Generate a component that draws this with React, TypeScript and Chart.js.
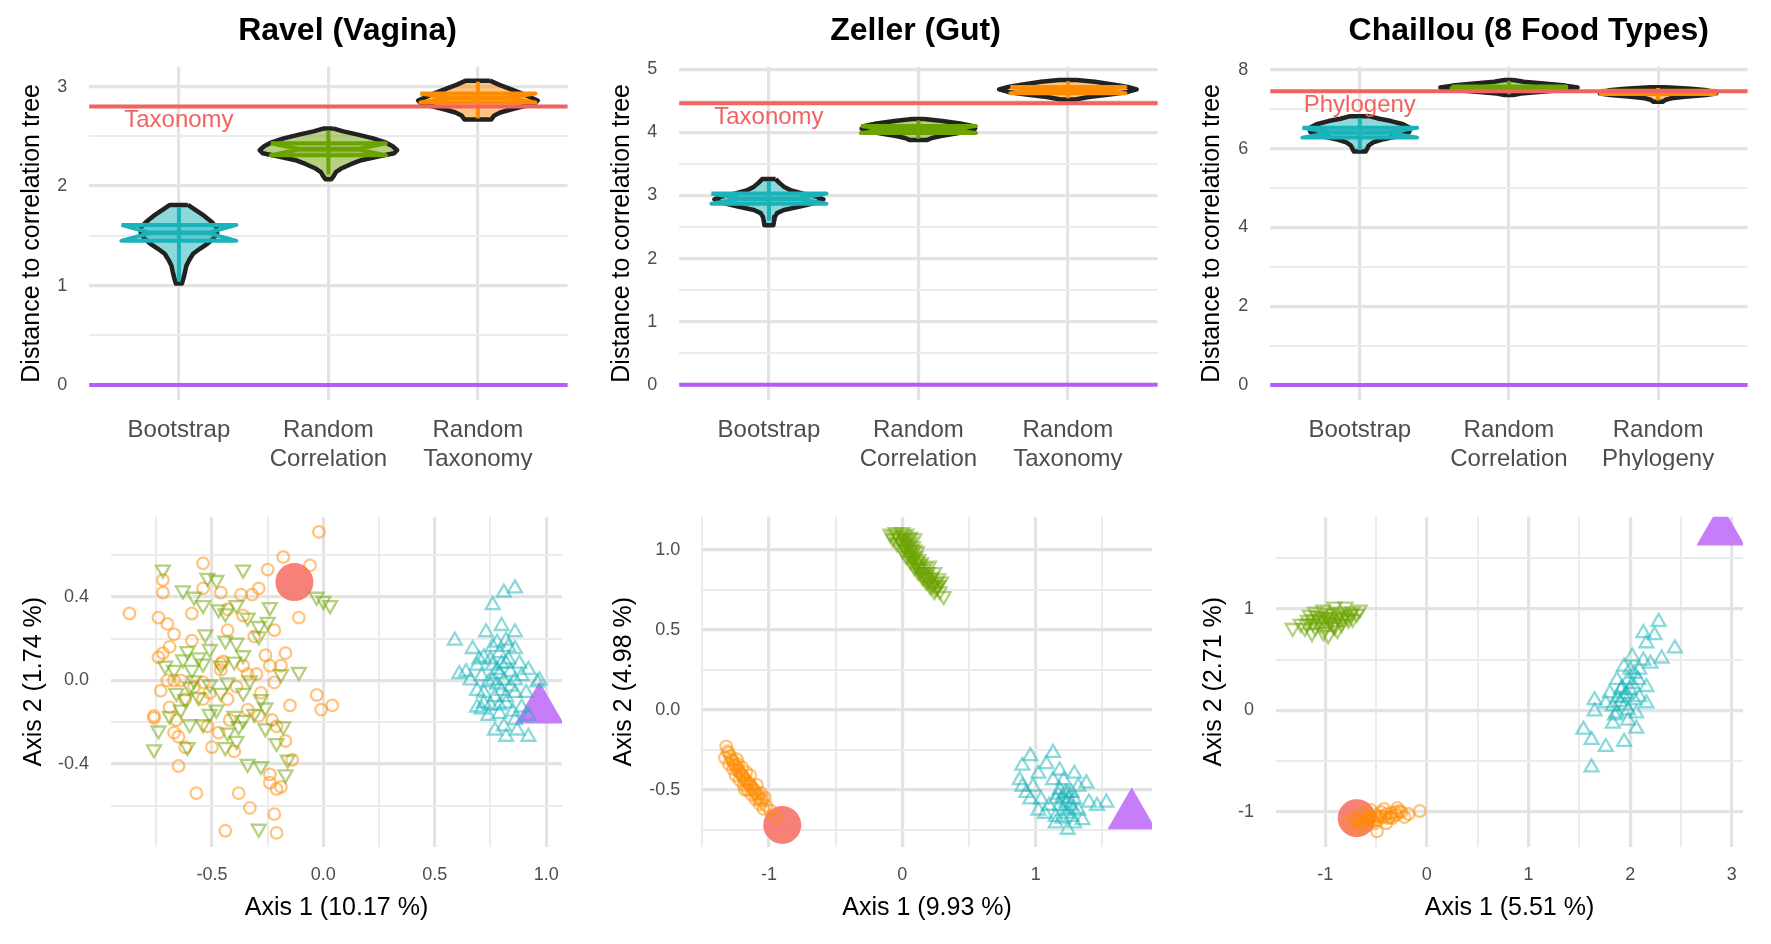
import React, { useEffect, useRef } from 'react';
import { Chart, registerables } from 'chart.js';
Chart.register(...registerables);

const FONT = "'Liberation Sans', Arial, Helvetica, sans-serif";
Chart.defaults.font.family = FONT;

const TEAL = '#1AB3B9';
const GREEN = '#6BA300';
const ORANGE = '#FF8C00';
const REFRED = '#F2625F';
const ZEROPURPLE = '#B55CF7';
const TREE_RED = 'rgba(246,118,110,0.92)';
const TREE_PURPLE = 'rgba(196,118,250,0.95)';
const GRID_MAJOR = '#E3E3E3';
const GRID_MINOR = '#EBEBEB';
const TICK_COLOR = '#4D4D4D';

// ---------------- Top row: distance to correlation tree ----------------
const ravelCats = ['Bootstrap', ['Random', 'Correlation'], ['Random', 'Taxonomy']];
const zellerCats = ['Bootstrap', ['Random', 'Correlation'], ['Random', 'Taxonomy']];
const chaillouCats = ['Bootstrap', ['Random', 'Correlation'], ['Random', 'Phylogeny']];

// violin density outlines: y value and half width (category units)
const ravelBootY = [1.81, 1.76, 1.70, 1.64, 1.58, 1.52, 1.47, 1.42, 1.37, 1.32, 1.26, 1.20, 1.13, 1.07, 1.02];
const ravelBootW = [0.06, 0.11, 0.17, 0.22, 0.255, 0.255, 0.23, 0.19, 0.14, 0.095, 0.07, 0.05, 0.04, 0.03, 0.02];
const ravelCorY = [2.58, 2.55, 2.52, 2.48, 2.44, 2.40, 2.36, 2.33, 2.30, 2.26, 2.22, 2.18, 2.14, 2.10, 2.07];
const ravelCorW = [0.03, 0.10, 0.19, 0.30, 0.38, 0.43, 0.46, 0.44, 0.34, 0.22, 0.15, 0.09, 0.05, 0.035, 0.02];
const ravelTaxY = [3.06, 3.02, 2.98, 2.94, 2.90, 2.86, 2.83, 2.80, 2.77, 2.74, 2.71, 2.67];
const ravelTaxW = [0.08, 0.14, 0.21, 0.28, 0.34, 0.40, 0.38, 0.30, 0.22, 0.15, 0.11, 0.09];

const zellerBootY = [3.26, 3.20, 3.14, 3.08, 3.03, 2.98, 2.94, 2.90, 2.86, 2.82, 2.77, 2.72, 2.66, 2.60, 2.53];
const zellerBootW = [0.045, 0.07, 0.10, 0.15, 0.23, 0.32, 0.365, 0.33, 0.27, 0.20, 0.10, 0.055, 0.04, 0.035, 0.03];
const zellerCorY = [4.21, 4.18, 4.14, 4.10, 4.06, 4.02, 3.98, 3.94, 3.91, 3.88];
const zellerCorW = [0.04, 0.16, 0.28, 0.36, 0.38, 0.34, 0.25, 0.15, 0.09, 0.06];
const zellerTaxY = [4.83, 4.80, 4.76, 4.72, 4.68, 4.64, 4.60, 4.56, 4.52];
const zellerTaxW = [0.06, 0.18, 0.30, 0.40, 0.46, 0.40, 0.28, 0.14, 0.05];

const chaillouBootY = [6.82, 6.76, 6.70, 6.62, 6.52, 6.42, 6.32, 6.24, 6.16, 6.08, 6.00, 5.93];
const chaillouBootW = [0.07, 0.13, 0.21, 0.29, 0.34, 0.33, 0.26, 0.16, 0.09, 0.06, 0.05, 0.04];
const chaillouCorY = [7.74, 7.70, 7.65, 7.60, 7.55, 7.50, 7.45, 7.40, 7.36];
const chaillouCorW = [0.03, 0.10, 0.25, 0.38, 0.46, 0.40, 0.24, 0.08, 0.03];
const chaillouPhyY = [7.56, 7.52, 7.48, 7.44, 7.40, 7.36, 7.32, 7.28, 7.24, 7.19];
const chaillouPhyW = [0.05, 0.22, 0.33, 0.38, 0.39, 0.32, 0.18, 0.09, 0.05, 0.03];

// box statistics per group [Bootstrap, Random Correlation, Random Taxonomy/Phylogeny]
const ravelQ1 = [1.45, 2.31, 2.84];
const ravelMed = [1.53, 2.37, 2.885];
const ravelQ3 = [1.61, 2.43, 2.93];
const ravelLo = [1.04, 2.12, 2.68];
const ravelHi = [1.79, 2.56, 3.05];

const zellerQ1 = [2.87, 3.99, 4.62];
const zellerMed = [2.95, 4.045, 4.67];
const zellerQ3 = [3.03, 4.10, 4.72];
const zellerLo = [2.60, 3.90, 4.54];
const zellerHi = [3.23, 4.19, 4.81];

const chaillouQ1 = [6.28, 7.535, 7.39];
const chaillouMed = [6.41, 7.555, 7.43];
const chaillouQ3 = [6.53, 7.575, 7.47];
const chaillouLo = [5.96, 7.38, 7.22];
const chaillouHi = [6.78, 7.72, 7.54];

const ravelRef = 2.8;
const zellerRef = 4.46;
const chaillouRef = 7.46;

const ravelYTicks = [0, 1, 2, 3];
const ravelYMinor = [0.5, 1.5, 2.5];
const zellerYTicks = [0, 1, 2, 3, 4, 5];
const zellerYMinor = [0.5, 1.5, 2.5, 3.5, 4.5];
const chaillouYTicks = [0, 2, 4, 6, 8];
const chaillouYMinor = [1, 3, 5, 7];

// ---------------- Bottom row: PCoA ----------------
const ravelTaxPts = [[-0.02,0.71],[-0.18,0.59],[-0.54,0.56],[-0.06,0.55],[-0.25,0.53],[-0.72,0.48],[-0.72,0.42],[-0.87,0.32],[-0.54,0.44],[-0.46,0.42],[-0.29,0.44],[-0.32,0.41],[-0.37,0.41],[-0.11,0.30],[-0.59,0.32],[-0.74,0.30],[-0.70,0.27],[-0.67,0.22],[-0.43,0.34],[-0.36,0.31],[-0.22,0.24],[-0.43,0.24],[-0.31,0.21],[-0.59,0.19],[-0.69,0.16],[-0.74,0.11],[-0.72,0.13],[-0.17,0.13],[-0.26,0.12],[-0.45,0.09],[-0.36,0.07],[-0.24,0.07],[-0.19,0.07],[-0.46,0.08],[-0.30,0.03],[-0.34,0.03],[-0.54,-0.01],[-0.70,0.00],[-0.67,0.00],[-0.73,-0.05],[-0.22,-0.01],[-0.03,-0.07],[-0.01,-0.14],[0.04,-0.12],[-0.15,-0.12],[-0.69,-0.13],[-0.76,-0.18],[-0.76,-0.17],[-0.54,-0.09],[-0.51,-0.06],[-0.43,-0.09],[-0.34,-0.14],[-0.29,-0.17],[-0.23,-0.19],[-0.42,-0.19],[-0.52,-0.22],[-0.66,-0.19],[-0.67,-0.25],[-0.65,-0.27],[-0.62,-0.32],[-0.47,-0.25],[-0.50,-0.32],[-0.21,-0.22],[-0.17,-0.29],[-0.14,-0.38],[-0.40,-0.34],[-0.65,-0.41],[-0.24,-0.45],[-0.24,-0.49],[-0.21,-0.52],[-0.19,-0.51],[-0.57,-0.54],[-0.38,-0.54],[-0.33,-0.61],[-0.22,-0.64],[-0.44,-0.72],[-0.21,-0.73],[-0.46,0.05],[-0.39,-0.03],[-0.28,-0.06],[-0.58,-0.03],[-0.64,0.00],[-0.62,-0.09]];
const ravelCorPts = [[-0.72,0.53],[-0.36,0.53],[-0.52,0.49],[-0.48,0.48],[-0.63,0.43],[-0.58,0.40],[-0.54,0.36],[-0.03,0.40],[0.00,0.38],[0.03,0.36],[-0.24,0.35],[-0.47,0.34],[-0.39,0.36],[-0.44,0.32],[-0.34,0.30],[-0.25,0.28],[-0.29,0.26],[-0.53,0.22],[-0.44,0.19],[-0.39,0.18],[-0.29,0.21],[-0.51,0.15],[-0.61,0.14],[-0.56,0.11],[-0.36,0.12],[-0.63,0.10],[-0.71,0.07],[-0.67,0.05],[-0.59,0.05],[-0.54,0.08],[-0.46,0.07],[-0.40,0.09],[-0.11,0.04],[-0.19,0.03],[-0.43,-0.01],[-0.51,-0.02],[-0.60,-0.03],[-0.66,-0.06],[-0.62,-0.09],[-0.56,-0.08],[-0.36,-0.06],[-0.28,-0.09],[-0.26,-0.13],[-0.48,-0.14],[-0.40,-0.17],[-0.36,-0.19],[-0.51,-0.16],[-0.64,-0.14],[-0.60,-0.21],[-0.74,-0.24],[-0.61,-0.32],[-0.44,-0.32],[-0.39,-0.29],[-0.38,-0.22],[-0.18,-0.22],[-0.26,-0.23],[-0.21,-0.30],[-0.76,-0.33],[-0.34,-0.40],[-0.28,-0.41],[-0.16,-0.38],[-0.17,-0.45],[-0.29,-0.71],[-0.58,0.00],[-0.46,-0.06],[-0.33,0.00],[-0.69,-0.17],[-0.54,-0.21],[-0.43,-0.25],[-0.31,-0.16]];
const ravelBootPts = [[0.86,0.44],[0.81,0.42],[0.76,0.36],[0.59,0.19],[0.73,0.23],[0.80,0.26],[0.86,0.23],[0.82,0.19],[0.76,0.16],[0.67,0.15],[0.72,0.11],[0.79,0.13],[0.86,0.15],[0.82,0.08],[0.76,0.07],[0.69,0.07],[0.64,0.04],[0.92,0.05],[0.89,0.02],[0.81,0.00],[0.74,-0.01],[0.71,0.02],[0.96,-0.01],[0.66,0.00],[0.69,-0.05],[0.77,-0.08],[0.86,-0.06],[0.91,-0.06],[0.72,-0.11],[0.82,-0.11],[0.71,-0.14],[0.89,-0.13],[0.79,-0.16],[0.74,-0.17],[0.86,-0.19],[0.92,-0.17],[0.81,-0.22],[0.77,-0.24],[0.87,-0.24],[0.82,-0.27],[0.92,-0.27],[0.69,-0.13],[0.61,0.03],[0.97,0.00],[0.76,0.00],[0.84,-0.03],[0.79,0.03],[0.72,-0.06],[0.78,0.05],[0.80,-0.05],[0.83,0.10],[0.75,-0.12],[0.85,-0.15],[0.78,0.18],[0.88,0.08],[0.70,0.10],[0.80,0.08],[0.84,0.04],[0.78,-0.02],[0.82,-0.08],[0.86,0.00],[0.75,0.10],[0.83,0.16],[0.79,-0.12]];
const ravelTaxTree = [-0.13, 0.47];
const ravelCorTree = [0.97, -0.14];

const zellerTaxPts = [[-1.32,-0.23],[-1.31,-0.26],[-1.33,-0.30],[-1.29,-0.29],[-1.27,-0.32],[-1.30,-0.34],[-1.25,-0.35],[-1.27,-0.37],[-1.23,-0.38],[-1.25,-0.41],[-1.21,-0.40],[-1.19,-0.42],[-1.22,-0.44],[-1.17,-0.44],[-1.19,-0.47],[-1.15,-0.46],[-1.13,-0.48],[-1.16,-0.50],[-1.11,-0.50],[-1.09,-0.47],[-1.13,-0.53],[-1.08,-0.53],[-1.06,-0.52],[-1.10,-0.56],[-1.05,-0.56],[-1.03,-0.55],[-1.07,-0.59],[-1.02,-0.60],[-1.04,-0.62],[-0.99,-0.63],[-0.94,-0.67],[-1.20,-0.36],[-1.14,-0.41],[-1.18,-0.50],[-1.24,-0.31],[-1.30,-0.27],[-1.28,-0.31],[-1.26,-0.34],[-1.24,-0.36],[-1.22,-0.39],[-1.20,-0.41],[-1.18,-0.44],[-1.16,-0.46],[-1.14,-0.47],[-1.12,-0.50],[-1.10,-0.52],[-1.08,-0.55],[-1.06,-0.57],[-1.23,-0.34],[-1.17,-0.39]];
const zellerCorPts = [[-0.09,1.10],[-0.05,1.11],[0.00,1.11],[0.03,1.10],[-0.07,1.07],[-0.02,1.07],[0.02,1.06],[0.06,1.08],[0.09,1.07],[-0.04,1.04],[0.01,1.03],[0.05,1.03],[0.08,1.02],[0.00,1.00],[0.04,0.99],[0.07,0.98],[0.11,0.99],[0.03,0.96],[0.08,0.95],[0.12,0.94],[0.06,0.93],[0.10,0.91],[0.14,0.92],[0.09,0.89],[0.13,0.88],[0.17,0.89],[0.12,0.86],[0.16,0.85],[0.19,0.86],[0.15,0.83],[0.19,0.82],[0.22,0.83],[0.18,0.80],[0.22,0.79],[0.25,0.80],[0.21,0.77],[0.25,0.76],[0.27,0.78],[0.24,0.74],[0.31,0.71],[0.20,0.90],[0.24,0.86],[0.27,0.82],[0.29,0.80],[-0.06,1.09],[-0.03,1.08],[0.01,1.09],[0.04,1.07],[-0.01,1.05],[0.03,1.04],[0.06,1.05],[0.02,1.01],[0.06,1.00],[0.09,1.00],[0.05,0.97],[0.10,0.96],[0.07,0.95],[0.11,0.93],[0.13,0.91],[0.11,0.90],[0.15,0.88],[0.14,0.86],[0.18,0.84],[0.17,0.82],[0.20,0.81],[0.23,0.78],[0.26,0.77],[0.28,0.74]];
const zellerBootPts = [[0.96,-0.29],[1.13,-0.27],[0.90,-0.35],[0.88,-0.44],[1.02,-0.40],[1.08,-0.34],[1.18,-0.38],[1.29,-0.40],[1.32,-0.48],[1.38,-0.46],[1.24,-0.52],[1.15,-0.56],[1.10,-0.60],[1.04,-0.56],[0.93,-0.52],[0.98,-0.48],[1.21,-0.63],[1.27,-0.67],[1.35,-0.69],[1.15,-0.67],[1.24,-0.75],[1.40,-0.58],[1.46,-0.60],[1.53,-0.58],[1.29,-0.56],[1.18,-0.50],[1.13,-0.44],[1.07,-0.65],[1.29,-0.71],[1.02,-0.63],[0.90,-0.48],[1.21,-0.44],[1.32,-0.63],[1.15,-0.71],[0.96,-0.56],[1.27,-0.52],[1.20,-0.55],[1.23,-0.58],[1.26,-0.60],[1.18,-0.60],[1.22,-0.52],[1.25,-0.56],[1.28,-0.62],[1.17,-0.53],[1.24,-0.65],[1.20,-0.68]];
const zellerTaxTree = [-0.90, -0.72];
const zellerCorTree = [1.72, -0.66];

const chaillouTaxPts = [[-0.07,-0.99],[-0.18,-1.02],[-0.25,-1.00],[-0.29,-0.96],[-0.36,-1.05],[-0.42,-0.97],[-0.47,-1.05],[-0.49,-1.19],[-0.55,-0.98],[-0.58,-1.08],[-0.62,-1.01],[-0.67,-1.11],[-0.73,-1.05],[-0.69,-1.18],[-0.51,-1.11],[-0.40,-1.11],[-0.34,-1.06],[-0.22,-1.05],[-0.45,-1.00],[-0.64,-1.14],[-0.31,-1.00],[-0.42,-1.05],[-0.56,-1.04],[-0.77,-1.11],[-0.60,-1.05],[-0.55,-1.06],[-0.50,-1.03],[-0.45,-1.04],[-0.40,-1.02],[-0.35,-1.01],[-0.30,-1.03],[-0.65,-1.07],[-0.70,-1.08],[-0.53,-1.09],[-0.48,-1.08],[-0.38,-1.06],[-0.27,-0.99],[-0.62,-1.10]];
const chaillouCorPts = [[-1.32,0.81],[-1.24,0.85],[-1.17,0.89],[-1.10,0.82],[-1.13,0.76],[-1.02,0.77],[-0.97,0.74],[-0.91,0.82],[-0.84,0.85],[-0.77,0.89],[-0.69,0.95],[-0.66,0.99],[-0.80,1.02],[-0.91,1.02],[-1.02,0.99],[-1.10,0.97],[-1.15,0.94],[-0.99,0.92],[-0.88,0.92],[-0.80,0.94],[-0.73,0.90],[-1.06,0.89],[-0.95,0.87],[-0.88,0.79],[-1.20,0.81],[-0.73,0.97],[-1.00,0.82],[-1.11,0.90],[-1.05,0.85],[-1.00,0.88],[-0.95,0.90],[-0.90,0.86],[-0.85,0.89],[-0.82,0.91],[-0.93,0.95],[-0.97,0.96],[-1.08,0.93],[-1.03,0.92],[-0.86,0.97],[-0.78,0.92],[-0.92,0.84],[-1.12,0.86],[-0.75,0.95],[-1.18,0.85]];
const chaillouBootPts = [[2.28,0.87],[2.13,0.76],[2.24,0.74],[2.16,0.66],[2.44,0.61],[2.31,0.51],[2.20,0.46],[2.02,0.53],[1.94,0.43],[2.09,0.40],[1.87,0.30],[2.02,0.26],[2.16,0.23],[1.80,0.17],[1.94,0.13],[2.09,0.13],[1.65,0.10],[2.16,0.07],[1.83,0.04],[1.98,0.00],[1.65,-0.01],[2.06,-0.03],[1.83,-0.13],[1.54,-0.19],[2.06,-0.18],[1.62,-0.29],[1.76,-0.36],[1.94,-0.31],[1.62,-0.56],[1.98,0.30],[1.91,0.20],[2.04,0.36],[1.87,-0.03],[1.76,0.07],[2.13,0.49],[1.98,-0.10],[1.92,0.22],[1.96,0.16],[2.00,0.20],[1.90,0.08],[1.95,0.05],[2.04,0.10],[1.88,0.12],[2.00,0.40],[2.08,0.30],[1.85,-0.05]];
const chaillouTaxTree = [-0.69, -1.06];
const chaillouCorTree = [2.89, 1.76];

const ravelPX = [-0.5, 0, 0.5, 1.0];
const ravelPXLabels = ['-0.5', '0.0', '0.5', '1.0'];
const ravelPXMinor = [-0.75, -0.25, 0.25, 0.75];
const ravelPY = [-0.4, 0, 0.4];
const ravelPYLabels = ['-0.4', '0.0', '0.4'];
const ravelPYMinor = [-0.6, -0.2, 0.2, 0.6];

const zellerPX = [-1, 0, 1];
const zellerPXLabels = ['-1', '0', '1'];
const zellerPXMinor = [-1.5, -0.5, 0.5, 1.5];
const zellerPY = [-0.5, 0, 0.5, 1.0];
const zellerPYLabels = ['-0.5', '0.0', '0.5', '1.0'];
const zellerPYMinor = [-0.75, -0.25, 0.25, 0.75];

const chaillouPX = [-1, 0, 1, 2, 3];
const chaillouPXLabels = ['-1', '0', '1', '2', '3'];
const chaillouPXMinor = [-0.5, 0.5, 1.5, 2.5];
const chaillouPY = [-1, 0, 1];
const chaillouPYLabels = ['-1', '0', '1'];
const chaillouPYMinor = [-0.5, 0.5, 1.5];

// ---------------- helpers ----------------
function rgba(hex: string, a: number) {
  const n = parseInt(hex.slice(1), 16);
  return `rgba(${(n >> 16) & 255},${(n >> 8) & 255},${n & 255},${a})`;
}
const toXY = (a: number[][]) => a.map((p) => ({ x: p[0], y: p[1] }));

function axis(o: any) {
  const all = [...o.majors, ...o.minors].sort((a: number, b: number) => a - b);
  const isMajor = (c: any) => c.tick && o.majors.includes(c.tick.value);
  return {
    type: 'linear',
    position: o.isX ? 'bottom' : 'left',
    min: o.min,
    max: o.max,
    bounds: 'data',
    afterBuildTicks: (s: any) => {
      s.ticks = all.map((v: number) => ({ value: v }));
    },
    afterFit: (s: any) => {
      if (o.isX) s.height = o.size;
      else s.width = o.size;
    },
    ticks: {
      autoSkip: false,
      maxRotation: 0,
      minRotation: 0,
      padding: o.tickPad,
      color: TICK_COLOR,
      font: { family: FONT, size: o.tickSize },
      callback: (v: number) => {
        const i = o.majors.indexOf(v);
        return i >= 0 ? o.labels[i] : '';
      },
    },
    grid: {
      drawTicks: false,
      color: (c: any) => (isMajor(c) ? GRID_MAJOR : GRID_MINOR),
      lineWidth: (c: any) => (isMajor(c) ? 3.2 : 2),
    },
    border: { display: false },
    title: {
      display: !!o.title,
      text: o.title || '',
      color: '#000',
      font: { family: FONT, size: 25 },
      padding: o.titlePad || 0,
    },
  };
}

const panelTextPlugin = {
  id: 'panelText',
  afterDraw(chart: any, _args: any, opts: any) {
    const { ctx } = chart;
    ctx.save();
    if (opts.title) {
      ctx.font = `bold 32px ${FONT}`;
      ctx.fillStyle = '#000';
      ctx.textAlign = 'center';
      ctx.textBaseline = 'alphabetic';
      ctx.fillText(opts.title, opts.titleX, opts.titleY);
    }
    if (opts.refLabel) {
      const x = chart.scales.x.getPixelForValue(1);
      const y = chart.scales.y.getPixelForValue(opts.refValue) + 14;
      ctx.font = `24px ${FONT}`;
      ctx.fillStyle = REFRED;
      ctx.textAlign = 'center';
      ctx.textBaseline = 'middle';
      ctx.fillText(opts.refLabel, x, y);
    }
    ctx.restore();
  },
};

const X_LO = 0.4;
const X_HI = 3.6;
const BOX_HALF = 0.385;

function lineDs(data: any[], color: string, width: number, order: number, fill?: string, bg?: string) {
  return {
    type: 'line',
    data,
    borderColor: color,
    borderWidth: width,
    backgroundColor: bg || 'rgba(0,0,0,0)',
    fill: fill || false,
    pointRadius: 0,
    tension: 0,
    clip: false,
    order,
    borderJoinStyle: 'round',
    borderCapStyle: 'butt',
  };
}

function violinChart(p: any) {
  const cols = [TEAL, GREEN, ORANGE];
  const datasets: any[] = [];
  datasets.push(lineDs([{ x: X_LO, y: p.ref }, { x: X_HI, y: p.ref }], REFRED, 4, 0));
  datasets.push(lineDs([{ x: X_LO, y: 0 }, { x: X_HI, y: 0 }], ZEROPURPLE, 4, 0));
  p.violins.forEach((v: any, i: number) => {
    const c = i + 1;
    const col = cols[i];
    const right = v.y.map((y: number, k: number) => ({ x: c + v.w[k], y }));
    const left = v.y.map((y: number, k: number) => ({ x: c - v.w[k], y })).reverse();
    const poly = [...right, ...left, right[0]];
    datasets.push(lineDs(poly, '#222222', 4.5, 6, 'shape', rgba(col, 0.5)));
    const hw = BOX_HALF;
    const nw = BOX_HALF / 2;
    const q1 = p.q1[i], q3 = p.q3[i], md = p.med[i];
    const box = [
      { x: c - hw, y: q3 }, { x: c - nw, y: md }, { x: c - hw, y: q1 },
      { x: c + hw, y: q1 }, { x: c + nw, y: md }, { x: c + hw, y: q3 }, { x: c - hw, y: q3 },
    ];
    datasets.push(lineDs(box, col, 4, 5, 'shape', rgba(col, 0.35)));
    datasets.push(lineDs([{ x: c - nw, y: md }, { x: c + nw, y: md }], col, 4.5, 4));
    datasets.push(lineDs([{ x: c, y: p.lo[i] }, { x: c, y: p.hi[i] }], col, 4, 3));
  });
  return {
    type: 'scatter',
    data: { datasets },
    options: {
      responsive: false,
      animation: false,
      events: [],
      layout: { padding: { top: 66.7, right: p.padRight, bottom: 0, left: 0 } },
      plugins: {
        legend: { display: false },
        tooltip: { enabled: false },
        panelText: { title: p.title, titleX: p.titleX, titleY: 40, refLabel: p.refLabel, refValue: p.ref },
      },
      scales: {
        x: axis({ isX: true, min: X_LO, max: X_HI, majors: [1, 2, 3], labels: p.cats, minors: [], size: 70, tickPad: 16, tickSize: 24 }),
        y: axis({
          isX: false, min: p.yMin, max: p.yMax, majors: p.yTicks, labels: p.yTicks.map(String), minors: p.yMinor,
          size: p.yAxisW, tickPad: 22, tickSize: 18, title: 'Distance to correlation tree', titlePad: { top: 17, bottom: 0 },
        }),
      },
    },
    plugins: [panelTextPlugin],
  };
}

function pcoaChart(p: any) {
  const datasets: any[] = [
    {
      type: 'scatter', data: toXY(p.boot), pointStyle: 'triangle', pointRadius: 8, pointBorderWidth: 2.3,
      pointBorderColor: rgba(TEAL, 0.5), pointBackgroundColor: 'rgba(0,0,0,0)', clip: 0, order: 1,
    },
    {
      type: 'scatter', data: toXY(p.cor), pointStyle: 'triangle', pointRotation: 180, pointRadius: 8, pointBorderWidth: 2.3,
      pointBorderColor: rgba(GREEN, 0.5), pointBackgroundColor: 'rgba(0,0,0,0)', clip: 0, order: 2,
    },
    {
      type: 'scatter', data: toXY(p.tax), pointStyle: 'circle', pointRadius: 5.8, pointBorderWidth: 2.3,
      pointBorderColor: rgba(ORANGE, 0.5), pointBackgroundColor: 'rgba(0,0,0,0)', clip: 0, order: 3,
    },
    {
      type: 'scatter', data: toXY([p.corTree]), pointStyle: 'triangle', pointRadius: 28, pointBorderWidth: 0,
      pointBackgroundColor: TREE_PURPLE, pointBorderColor: TREE_PURPLE, clip: 0, order: 4,
    },
    {
      type: 'scatter', data: toXY([p.taxTree]), pointStyle: 'circle', pointRadius: 19, pointBorderWidth: 0,
      pointBackgroundColor: TREE_RED, pointBorderColor: TREE_RED, clip: 0, order: 5,
    },
  ];
  return {
    type: 'scatter',
    data: { datasets },
    options: {
      responsive: false,
      animation: false,
      events: [],
      layout: { padding: { top: 46.7, right: p.padRight, bottom: 0, left: 0 } },
      plugins: { legend: { display: false }, tooltip: { enabled: false } },
      scales: {
        x: axis({
          isX: true, min: p.xMin, max: p.xMax, majors: p.xTicks, labels: p.xLabels, minors: p.xMinor,
          size: 97.3, tickPad: 18, tickSize: 18, title: p.xTitle, titlePad: { top: 0, bottom: 20.7 },
        }),
        y: axis({
          isX: false, min: p.yMin, max: p.yMax, majors: p.yTicks, labels: p.yLabels, minors: p.yMinor,
          size: p.yAxisW, tickPad: 22, tickSize: 18, title: p.yTitle, titlePad: { top: 19, bottom: 0 },
        }),
      },
    },
  };
}

function ChartCanvas(props: { left: number; top: number; width: number; height: number; build: () => any }) {
  const ref = useRef<HTMLCanvasElement>(null);
  useEffect(() => {
    const chart = new Chart(ref.current as HTMLCanvasElement, props.build());
    return () => chart.destroy();
  }, []);
  return (
    <canvas
      ref={ref}
      width={props.width}
      height={props.height}
      style={{ position: 'absolute', left: props.left, top: props.top, width: props.width, height: props.height }}
    />
  );
}

export default function App() {
  return (
    <div style={{ position: 'absolute', left: 0, top: 0, width: 1771, height: 944, background: '#fff', overflow: 'hidden' }}>
      <ChartCanvas left={0} top={0} width={590} height={470} build={() => violinChart({
        title: 'Ravel (Vagina)', titleX: 347.5, cats: ravelCats, ref: ravelRef, refLabel: 'Taxonomy',
        yMin: -0.15, yMax: 3.2, yTicks: ravelYTicks, yMinor: ravelYMinor, yAxisW: 89.2, padRight: 22.4,
        violins: [{ y: ravelBootY, w: ravelBootW }, { y: ravelCorY, w: ravelCorW }, { y: ravelTaxY, w: ravelTaxW }],
        q1: ravelQ1, med: ravelMed, q3: ravelQ3, lo: ravelLo, hi: ravelHi,
      })} />
      <ChartCanvas left={590} top={0} width={590} height={470} build={() => violinChart({
        title: 'Zeller (Gut)', titleX: 325.6, cats: zellerCats, ref: zellerRef, refLabel: 'Taxonomy',
        yMin: -0.24, yMax: 5.04, yTicks: zellerYTicks, yMinor: zellerYMinor, yAxisW: 89.2, padRight: 22.4,
        violins: [{ y: zellerBootY, w: zellerBootW }, { y: zellerCorY, w: zellerCorW }, { y: zellerTaxY, w: zellerTaxW }],
        q1: zellerQ1, med: zellerMed, q3: zellerQ3, lo: zellerLo, hi: zellerHi,
      })} />
      <ChartCanvas left={1180} top={0} width={591} height={470} build={() => violinChart({
        title: 'Chaillou (8 Food Types)', titleX: 348.7, cats: chaillouCats, ref: chaillouRef, refLabel: 'Phylogeny',
        yMin: -0.38, yMax: 8.08, yTicks: chaillouYTicks, yMinor: chaillouYMinor, yAxisW: 90.3, padRight: 23.4,
        violins: [{ y: chaillouBootY, w: chaillouBootW }, { y: chaillouCorY, w: chaillouCorW }, { y: chaillouPhyY, w: chaillouPhyW }],
        q1: chaillouQ1, med: chaillouMed, q3: chaillouQ3, lo: chaillouLo, hi: chaillouHi,
      })} />
      <ChartCanvas left={0} top={470} width={590} height={474} build={() => pcoaChart({
        tax: ravelTaxPts, cor: ravelCorPts, boot: ravelBootPts, taxTree: ravelTaxTree, corTree: ravelCorTree,
        xMin: -0.953, xMax: 1.071, xTicks: ravelPX, xLabels: ravelPXLabels, xMinor: ravelPXMinor,
        yMin: -0.796, yMax: 0.783, yTicks: ravelPY, yLabels: ravelPYLabels, yMinor: ravelPYMinor,
        xTitle: 'Axis 1 (10.17 %)', yTitle: 'Axis 2 (1.74 %)', yAxisW: 111, padRight: 22.4,
      })} />
      <ChartCanvas left={590} top={470} width={590} height={474} build={() => pcoaChart({
        tax: zellerTaxPts, cor: zellerCorPts, boot: zellerBootPts, taxTree: zellerTaxTree, corTree: zellerCorTree,
        xMin: -1.5, xMax: 1.872, xTicks: zellerPX, xLabels: zellerPXLabels, xMinor: zellerPXMinor,
        yMin: -0.856, yMax: 1.206, yTicks: zellerPY, yLabels: zellerPYLabels, yMinor: zellerPYMinor,
        xTitle: 'Axis 1 (9.93 %)', yTitle: 'Axis 2 (4.98 %)', yAxisW: 112.2, padRight: 22.4,
      })} />
      <ChartCanvas left={1180} top={470} width={591} height={474} build={() => pcoaChart({
        tax: chaillouTaxPts, cor: chaillouCorPts, boot: chaillouBootPts, taxTree: chaillouTaxTree, corTree: chaillouCorTree,
        xMin: -1.484, xMax: 3.11, xTicks: chaillouPX, xLabels: chaillouPXLabels, xMinor: chaillouPXMinor,
        yMin: -1.341, yMax: 1.905, yTicks: chaillouPY, yLabels: chaillouPYLabels, yMinor: chaillouPYMinor,
        xTitle: 'Axis 1 (5.51 %)', yTitle: 'Axis 2 (2.71 %)', yAxisW: 96, padRight: 23.4,
      })} />
    </div>
  );
}
